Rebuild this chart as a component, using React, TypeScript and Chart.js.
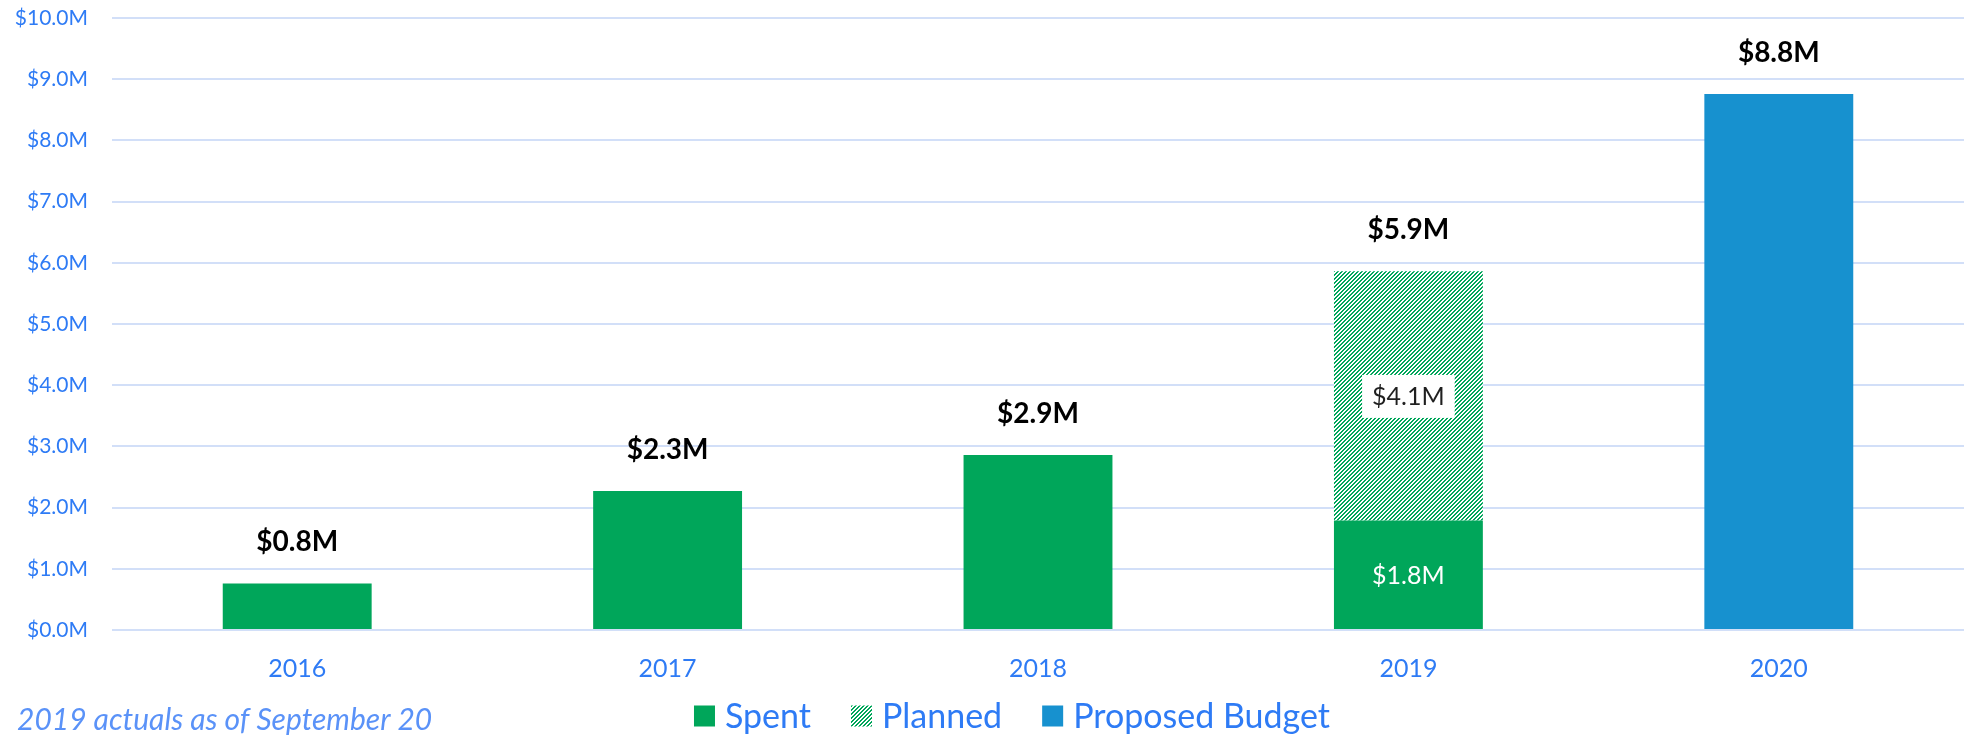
import React, { useEffect, useRef } from 'react';
import { Chart, registerables } from 'chart.js';

Chart.register(...registerables);

// ---------- data ----------
const years = ['2016', '2017', '2018', '2019', '2020'];
const spent = [0.76, 2.27, 2.86, 1.79, null];
const planned = [null, null, null, 4.07, null];
const proposed = [null, null, null, null, 8.76];
const seriesNames = ['Spent', 'Planned', 'Proposed Budget'];
const yMin = 0;
const yMax = 10;
const yStep = 1;
const footnote = '2019 actuals as of September 20';

// ---------- style ----------
const GREEN = '#00A65A';
const BLUE = '#1791CF';
const TICK_BLUE = '#2E7BF5';
const NOTE_BLUE = '#5A92F8';
const GRID = '#D2DFF8';
const FONT = 'Lato, "Open Sans", sans-serif';
const W = 1964;
const H = 746;

const fmt = (v: number) => `$${v.toFixed(1)}M`;

function makeHatch(): CanvasPattern | string {
  const c = document.createElement('canvas');
  c.width = 4;
  c.height = 4;
  const g = c.getContext('2d');
  if (!g) return GREEN;
  g.fillStyle = '#ffffff';
  g.fillRect(0, 0, 4, 4);
  g.fillStyle = GREEN;
  for (let y = 0; y < 4; y++) {
    for (let x = 0; x < 4; x++) {
      if ((x + y) % 4 < 2) g.fillRect(x, y, 1, 1);
    }
  }
  return g.createPattern(c, 'repeat') || GREEN;
}

const valueLabels = {
  id: 'valueLabels',
  afterDatasetsDraw(chart: any) {
    const { ctx } = chart;
    const yScale = chart.scales.y;
    const n = chart.data.labels.length;
    ctx.save();
    for (let i = 0; i < n; i++) {
      let total = 0;
      const segs: { di: number; v: number }[] = [];
      chart.data.datasets.forEach((ds: any, di: number) => {
        const v = ds.data[i];
        if (v != null) {
          total += v;
          segs.push({ di, v });
        }
      });
      if (!segs.length) continue;
      const el0 = chart.getDatasetMeta(segs[0].di).data[i];
      const x = el0.x;
      const yTop = yScale.getPixelForValue(total);
      ctx.font = `bold 28px ${FONT}`;
      ctx.fillStyle = '#000000';
      ctx.textAlign = 'center';
      ctx.textBaseline = 'alphabetic';
      ctx.fillText(fmt(total), x, yTop - 32);
      if (segs.length > 1) {
        segs.forEach((s) => {
          const el = chart.getDatasetMeta(s.di).data[i];
          const cy = (el.y + el.base) / 2;
          const text = fmt(s.v);
          ctx.font = `25px ${FONT}`;
          const style = chart.data.datasets[s.di].segmentLabel;
          if (style === 'boxed') {
            const w = ctx.measureText(text).width + 20;
            ctx.fillStyle = '#ffffff';
            ctx.fillRect(x - w / 2, cy - 21, w, 43);
            ctx.fillStyle = '#1f1f1f';
          } else {
            ctx.fillStyle = '#ffffff';
          }
          ctx.fillText(text, x, cy + 9);
        });
      }
    }
    ctx.restore();
  },
};

const legendAndNote = {
  id: 'legendAndNote',
  afterDraw(chart: any) {
    const { ctx } = chart;
    ctx.save();
    // footnote
    ctx.font = `italic 30px ${FONT}`;
    ctx.fillStyle = NOTE_BLUE;
    ctx.textAlign = 'left';
    ctx.textBaseline = 'alphabetic';
    ctx.fillText(footnote, 17, 730);
    // legend
    ctx.font = `34px ${FONT}`;
    const box = 21;
    const gap = 10;
    const itemGap = 40;
    const items = chart.data.datasets.map((ds: any) => ({
      text: ds.label,
      color: ds.backgroundColor,
      w: ctx.measureText(ds.label).width,
    }));
    const totalW =
      items.reduce((a: number, it: any) => a + box + gap + it.w, 0) + itemGap * (items.length - 1);
    let x = 1012 - totalW / 2;
    const cy = 716;
    items.forEach((it: any) => {
      ctx.fillStyle = it.color;
      ctx.fillRect(x, cy - box / 2, box, box);
      ctx.fillStyle = TICK_BLUE;
      ctx.fillText(it.text, x + box + gap, 728);
      x += box + gap + it.w + itemGap;
    });
    ctx.restore();
  },
};

export default function App() {
  const ref = useRef<HTMLCanvasElement | null>(null);

  useEffect(() => {
    document.body.style.margin = '0';
    const canvas = ref.current;
    if (!canvas) return;
    const hatch = makeHatch();
    const chart = new Chart(canvas, {
      type: 'bar',
      data: {
        labels: years,
        datasets: [
          { label: seriesNames[0], data: spent, backgroundColor: GREEN, segmentLabel: 'light' } as any,
          { label: seriesNames[1], data: planned, backgroundColor: hatch, segmentLabel: 'boxed' } as any,
          { label: seriesNames[2], data: proposed, backgroundColor: BLUE, segmentLabel: 'light' } as any,
        ],
      },
      options: {
        responsive: false,
        animation: false,
        devicePixelRatio: 1,
        datasets: {
          bar: { categoryPercentage: 1, barPercentage: 0.402, borderWidth: 0 },
        },
        layout: { padding: { top: 18, left: 0, right: 0, bottom: 56 } },
        plugins: {
          legend: { display: false },
          tooltip: { enabled: false },
        },
        scales: {
          x: {
            stacked: true,
            grid: { display: false, drawTicks: false },
            border: { display: false },
            ticks: {
              color: TICK_BLUE,
              font: { family: FONT, size: 25 },
              padding: 24,
              maxRotation: 0,
            },
            afterFit(scale: any) {
              scale.height = 60;
              scale.paddingLeft = 0;
              scale.paddingRight = 0;
            },
          },
          y: {
            stacked: true,
            min: yMin,
            max: yMax,
            grid: { color: GRID, lineWidth: 2, drawTicks: false },
            border: { display: false },
            ticks: {
              stepSize: yStep,
              color: TICK_BLUE,
              font: { family: FONT, size: 21 },
              padding: 24,
              callback: (v: any) => fmt(Number(v)),
            },
            afterFit(scale: any) {
              scale.width = 112;
              scale.paddingTop = 0;
              scale.paddingBottom = 0;
            },
          },
        },
      },
      plugins: [valueLabels, legendAndNote],
    });
    return () => chart.destroy();
  }, []);

  return (
    <div style={{ width: W, height: H, background: '#ffffff' }}>
      <canvas ref={ref} width={W} height={H} style={{ display: 'block' }} />
    </div>
  );
}
